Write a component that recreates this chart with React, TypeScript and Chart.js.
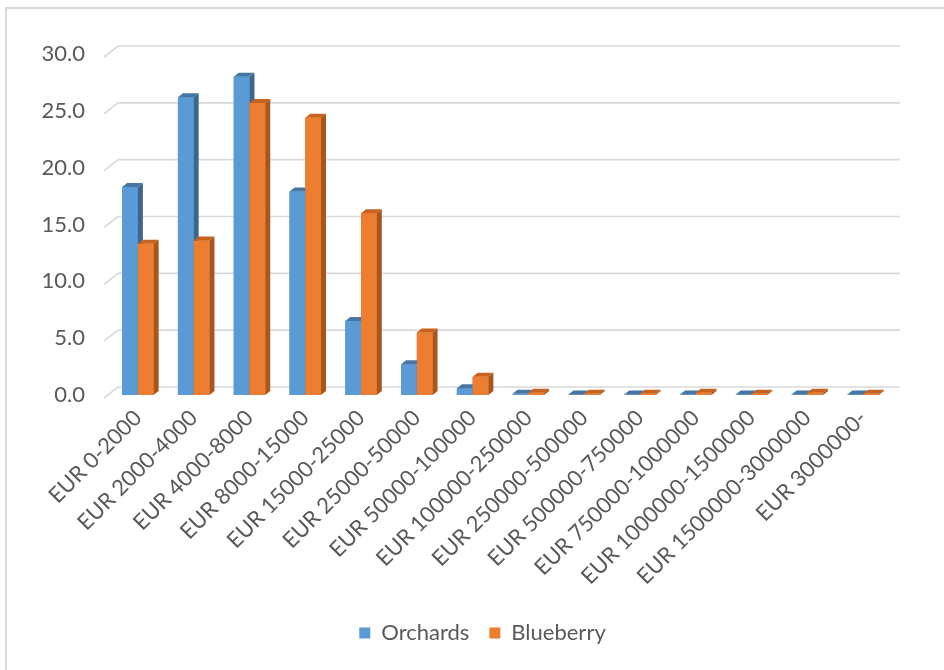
import React, { useEffect, useRef } from 'react';
import { Chart, registerables } from 'chart.js';

Chart.register(...registerables);

const categories = [
  'EUR 0-2000',
  'EUR 2000-4000',
  'EUR 4000-8000',
  'EUR 8000-15000',
  'EUR 15000-25000',
  'EUR 25000-50000',
  'EUR 50000-100000',
  'EUR 100000-250000',
  'EUR 250000-500000',
  'EUR 500000-750000',
  'EUR 750000-1000000',
  'EUR 1000000-1500000',
  'EUR 1500000-3000000',
  'EUR 3000000-',
];
const orchards = [18.3, 26.2, 28.0, 17.9, 6.5, 2.7, 0.6, 0.1, 0.05, 0.05, 0.05, 0.05, 0.05, 0.05];
const blueberry = [13.3, 13.6, 25.7, 24.4, 16.0, 5.5, 1.6, 0.2, 0.1, 0.1, 0.2, 0.1, 0.2, 0.1];
const seriesNames = ['Orchards', 'Blueberry'];
const yTicks = [0, 5, 10, 15, 20, 25, 30];

const frontColors = ['#5B9BD5', '#ED7D31'];
const topColors = ['#4676a4', '#c8621f'];
const sideColors = ['#3a6690', '#a9561c'];
const DX = 5;
const DY = 4;
const FONT = 'Lato, "Open Sans", sans-serif';

const wallPlugin = {
  id: 'wall3d',
  beforeDatasetsDraw(chart: any) {
    const { ctx, chartArea } = chart;
    const y = chart.scales.y;
    ctx.save();
    ctx.strokeStyle = '#d9d9d9';
    ctx.lineWidth = 1.6;
    for (const v of yTicks) {
      const py = y.getPixelForValue(v);
      ctx.beginPath();
      ctx.moveTo(chartArea.left - 6, py + 3);
      ctx.lineTo(chartArea.left + 8, py - 8);
      ctx.lineTo(chartArea.right + 9, py - 8);
      ctx.stroke();
    }
    ctx.restore();
  },
};

const bar3dPlugin = {
  id: 'bar3d',
  afterDatasetsDraw(chart: any) {
    const ctx = chart.ctx;
    const metas = [chart.getDatasetMeta(0), chart.getDatasetMeta(1)];
    ctx.save();
    for (let i = 0; i < categories.length; i++) {
      metas.forEach((meta: any, d: number) => {
        const el = meta.data[i];
        if (!el) return;
        const { x, y, base, width } = el.getProps(['x', 'y', 'base', 'width'], true);
        const l = x - width / 2;
        const r = x + width / 2;
        ctx.fillStyle = frontColors[d];
        ctx.fillRect(l, y, width, base - y);
        ctx.fillStyle = topColors[d];
        ctx.beginPath();
        ctx.moveTo(l, y);
        ctx.lineTo(l + DX, y - DY);
        ctx.lineTo(r + DX, y - DY);
        ctx.lineTo(r, y);
        ctx.closePath();
        ctx.fill();
        ctx.fillStyle = sideColors[d];
        ctx.beginPath();
        ctx.moveTo(r, y);
        ctx.lineTo(r + DX, y - DY);
        ctx.lineTo(r + DX, base - DY);
        ctx.lineTo(r, base);
        ctx.closePath();
        ctx.fill();
      });
    }
    ctx.restore();
  },
};

export default function App() {
  const ref = useRef<HTMLCanvasElement | null>(null);

  useEffect(() => {
    if (!ref.current) return;
    const chart = new Chart(ref.current, {
      type: 'bar',
      data: {
        labels: categories,
        datasets: [
          { label: seriesNames[0], data: orchards, backgroundColor: frontColors[0], borderWidth: 0 },
          { label: seriesNames[1], data: blueberry, backgroundColor: frontColors[1], borderWidth: 0 },
        ],
      },
      options: {
        animation: false,
        responsive: false,
        devicePixelRatio: 1,
        layout: { padding: { top: 54, right: 0, bottom: 16, left: 0 } },
        datasets: { bar: { categoryPercentage: 0.565, barPercentage: 1.0 } },
        scales: {
          x: {
            grid: { display: false, drawTicks: false },
            border: { display: false },
            ticks: {
              autoSkip: false,
              maxRotation: 45,
              minRotation: 45,
              padding: 10,
              color: '#595959',
              font: { family: FONT, size: 22 },
            },
            afterFit: (s: any) => {
              s.height = 207;
            },
          },
          y: {
            min: 0,
            max: 30,
            grid: { display: false, drawTicks: false },
            border: { display: false },
            ticks: {
              stepSize: 5,
              padding: 25,
              color: '#595959',
              font: { family: FONT, size: 22 },
              callback: (v: any) => Number(v).toFixed(1),
            },
            afterFit: (s: any) => {
              s.width = 110;
            },
          },
          spacer: {
            type: 'linear',
            position: 'right',
            display: true,
            grid: { display: false, drawTicks: false },
            border: { display: false },
            ticks: { display: false },
            afterFit: (s: any) => {
              s.width = 74;
            },
          },
        },
        plugins: {
          legend: {
            position: 'bottom',
            labels: {
              boxWidth: 11,
              boxHeight: 11,
              padding: 20,
              color: '#595959',
              font: { family: FONT, size: 22 },
            },
          },
          tooltip: { enabled: false },
        },
      },
      plugins: [wallPlugin, bar3dPlugin],
    });
    return () => chart.destroy();
  }, []);

  return (
    <div
      style={{
        position: 'fixed',
        left: 0,
        top: 0,
        width: 944,
        height: 670,
        overflow: 'hidden',
        background: '#ffffff',
      }}
    >
      <div
        style={{
          position: 'absolute',
          left: 5,
          top: 7,
          width: 1000,
          height: 1000,
          border: '2px solid #d9d9d9',
          boxSizing: 'border-box',
        }}
      />
      <div style={{ position: 'absolute', left: 0, top: 0, width: 965, height: 670 }}>
        <canvas ref={ref} width={965} height={670} />
      </div>
    </div>
  );
}
